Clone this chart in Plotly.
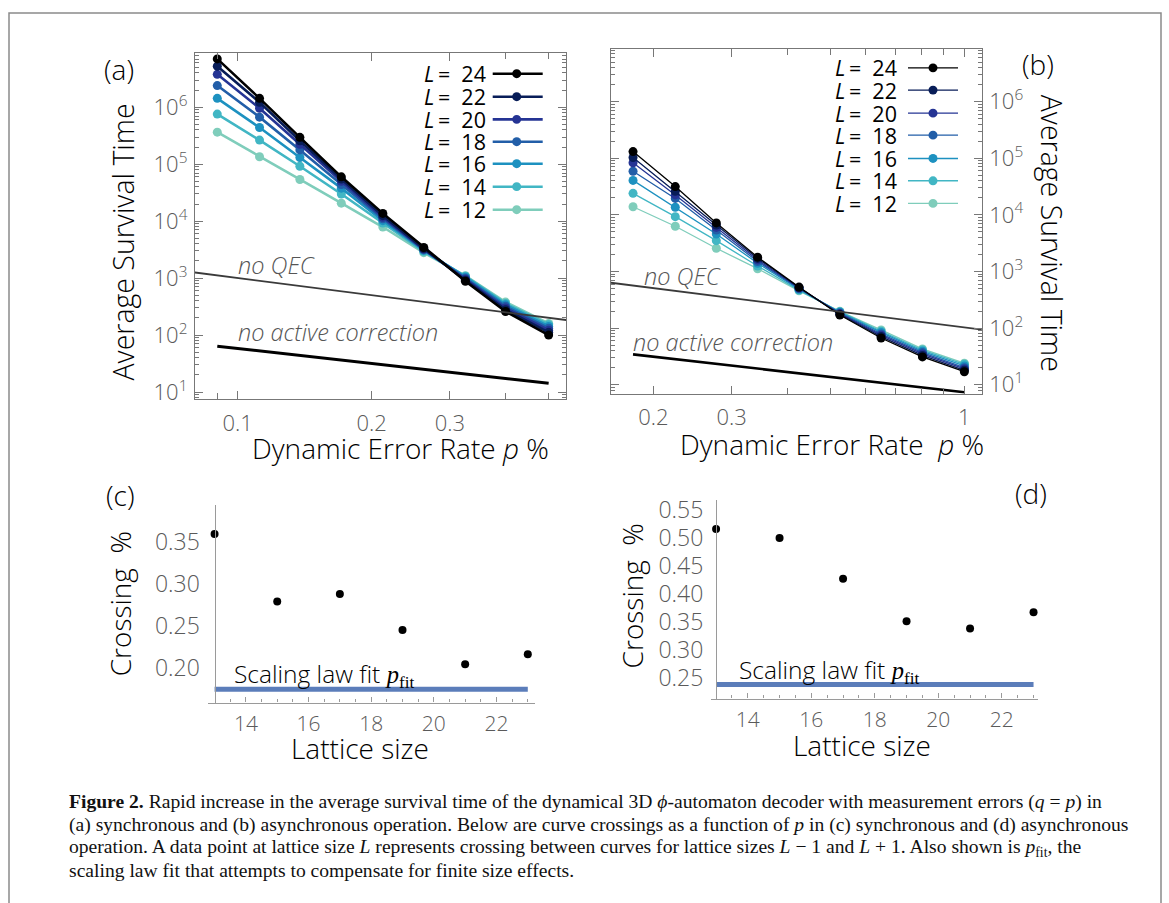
import math
import plotly.graph_objects as go

W, H = 1169, 903
def px(x): return x / W
def py(y): return 1 - y / H

# ---------------- data ----------------
L_sizes = [24, 22, 20, 18, 16, 14, 12]
colors = ['#000000', '#081d58', '#253494', '#225ea8', '#1d91c0', '#41b6c4', '#7fcdbb']

p_sync = [0.09, 0.112, 0.138, 0.171, 0.212, 0.262, 0.325, 0.40, 0.50]
T_sync_24 = [7.05e6, 1.43e6, 2.96e5, 6.0e4, 1.37e4, 3450, 880, 260, 100]
T_sync_22 = [5.26e6, 1.22e6, 2.58e5, 5.5e4, 1.25e4, 3300, 920, 280, 112]
T_sync_20 = [3.78e6, 9.6e5, 2.24e5, 5.0e4, 1.17e4, 3230, 960, 300, 122]
T_sync_18 = [2.40e6, 6.7e5, 1.78e5, 4.4e4, 1.10e4, 3160, 1000, 320, 132]
T_sync_16 = [1.43e6, 4.4e5, 1.31e5, 3.8e4, 1.02e4, 3090, 1040, 340, 142]
T_sync_14 = [7.57e5, 2.65e5, 9.2e4, 3.0e4, 9.3e3, 2950, 1080, 360, 152]
T_sync_12 = [3.65e5, 1.35e5, 5.4e4, 2.07e4, 7.9e3, 2800, 1100, 380, 160]
T_sync = [T_sync_24, T_sync_22, T_sync_20, T_sync_18, T_sync_16, T_sync_14, T_sync_12]

p_async = [0.18, 0.224, 0.277, 0.343, 0.425, 0.525, 0.65, 0.805, 1.0]
T_async_24 = [1.31e5, 3.16e4, 7.2e3, 1790, 530, 170, 67, 31, 17]
T_async_22 = [1.03e5, 2.6e4, 6.6e3, 1700, 520, 175, 71, 33, 18]
T_async_20 = [8.3e4, 2.25e4, 6.0e3, 1600, 510, 180, 75, 35, 19]
T_async_18 = [5.9e4, 1.95e4, 5.4e3, 1500, 500, 185, 79, 37, 20]
T_async_16 = [4.06e4, 1.36e4, 4.6e3, 1400, 485, 190, 84, 39, 21.5]
T_async_14 = [2.4e4, 9.3e3, 3.5e3, 1250, 470, 195, 88, 41, 23]
T_async_12 = [1.39e4, 6.3e3, 2.57e3, 1120, 455, 198, 93, 43, 24]
T_async = [T_async_24, T_async_22, T_async_20, T_async_18, T_async_16, T_async_14, T_async_12]

noqec_sync_p = [0.078, 0.56]
noqec_sync_T = [1290, 180]
noact_sync_p = [0.09, 0.50]
noact_sync_T = [64, 14.3]

noqec_async_p = [0.155, 1.12]
noqec_async_T = [655, 92]
noact_async_p = [0.18, 1.0]
noact_async_T = [34.4, 7.4]

cross_L = [13, 15, 17, 19, 21, 23]
cross_sync = [0.360, 0.279, 0.288, 0.245, 0.204, 0.216]
cross_async = [0.516, 0.500, 0.427, 0.351, 0.338, 0.367]
fit_sync = 0.174
fit_async = 0.238

sync_xticks = [0.1, 0.2, 0.3]
async_xticks = [0.2, 0.3, 1]
async_xtick_text = ['0.2', '0.3', '1']
surv_exps = [1, 2, 3, 4, 5, 6]
cross_xticks = [14, 16, 18, 20, 22]
cross_sync_yticks = [0.20, 0.25, 0.30, 0.35]
cross_async_yticks = [0.25, 0.30, 0.35, 0.40, 0.45, 0.50, 0.55]

# ---------------- style ----------------
SANS = 'Open Sans'
SERIF = 'Liberation Serif'
TICKC = '#5a5a5a'
FRAME = '#777777'
FITC = '#5b7dba'

fig = go.Figure()

# panel (a)
for L, c, T in reversed(list(zip(L_sizes, colors, T_sync))):
    fig.add_trace(go.Scatter(x=p_sync, y=T, mode='lines+markers', xaxis='x', yaxis='y',
                             line=dict(color=c, width=2.6), marker=dict(color=c, size=9),
                             showlegend=False, cliponaxis=False))
fig.add_trace(go.Scatter(x=noqec_sync_p, y=noqec_sync_T, mode='lines', xaxis='x', yaxis='y',
                         line=dict(color='#3a3a3a', width=1.8), showlegend=False))
fig.add_trace(go.Scatter(x=noact_sync_p, y=noact_sync_T, mode='lines', xaxis='x', yaxis='y',
                         line=dict(color='#000000', width=3), showlegend=False))

# panel (b)
for L, c, T in reversed(list(zip(L_sizes, colors, T_async))):
    fig.add_trace(go.Scatter(x=p_async, y=T, mode='lines+markers', xaxis='x2', yaxis='y2',
                             line=dict(color=c, width=1.3), marker=dict(color=c, size=9),
                             showlegend=False, cliponaxis=False))
fig.add_trace(go.Scatter(x=noqec_async_p, y=noqec_async_T, mode='lines', xaxis='x2', yaxis='y2',
                         line=dict(color='#3a3a3a', width=1.8), showlegend=False))
fig.add_trace(go.Scatter(x=noact_async_p, y=noact_async_T, mode='lines', xaxis='x2', yaxis='y2',
                         line=dict(color='#000000', width=2.6), showlegend=False))

# panel (c)
fig.add_trace(go.Scatter(x=[cross_L[0], cross_L[-1]], y=[fit_sync, fit_sync], mode='lines',
                         xaxis='x3', yaxis='y3', line=dict(color=FITC, width=5), showlegend=False))
fig.add_trace(go.Scatter(x=cross_L, y=cross_sync, mode='markers', xaxis='x3', yaxis='y3',
                         marker=dict(color='black', size=8), showlegend=False, cliponaxis=False))
# panel (d)
fig.add_trace(go.Scatter(x=[cross_L[0], cross_L[-1]], y=[fit_async, fit_async], mode='lines',
                         xaxis='x4', yaxis='y4', line=dict(color=FITC, width=5), showlegend=False))
fig.add_trace(go.Scatter(x=cross_L, y=cross_async, mode='markers', xaxis='x4', yaxis='y4',
                         marker=dict(color='black', size=8), showlegend=False, cliponaxis=False))

tickfont = dict(family=SANS, size=22, color=TICKC, weight=300)
tickfont_small = dict(family=SANS, size=21, color=TICKC, weight=300)
minor_log_y = [m * 10 ** e for e in range(0, 7) for m in range(2, 10)]

def frame_axis(**kw):
    d = dict(showline=True, linecolor=FRAME, linewidth=1.3, mirror='allticks', ticks='inside',
             ticklen=8, tickcolor=FRAME, tickwidth=1.2, showgrid=False, zeroline=False,
             tickfont=tickfont)
    d.update(kw)
    return d

surv_text = [f'10<sup>{e}</sup>' for e in surv_exps]
surv_vals = [10 ** e for e in surv_exps]

minor_cross = [13.5, 14.5, 15, 15.5, 16.5, 17, 17.5, 18.5, 19, 19.5, 20.5, 21, 21.5, 22.5, 23]

fig.update_layout(
    width=W, height=H, margin=dict(l=0, r=0, t=0, b=0),
    paper_bgcolor='white', plot_bgcolor='white',
    xaxis=frame_axis(type='log', domain=[px(195), px(566)], anchor='y',
                     range=[math.log10(0.0802), math.log10(0.547)],
                     tickmode='array', tickvals=sync_xticks, ticktext=[str(v) for v in sync_xticks],
                     minor=dict(tickvals=[0.09, 0.4, 0.5], ticks='inside', ticklen=6, tickcolor=FRAME),
                     ticklabelstandoff=4),
    yaxis=frame_axis(type='log', domain=[py(398), py(47)], anchor='x',
                     range=[0.874, 6.946], tickmode='array', tickvals=surv_vals, ticktext=surv_text,
                     minor=dict(tickvals=minor_log_y, ticks='inside', ticklen=4, tickcolor=FRAME),
                     ticklabelstandoff=2),
    xaxis2=frame_axis(type='log', domain=[px(611), px(981.7)], anchor='y2',
                      range=[math.log10(0.1606), math.log10(1.094)],
                      tickmode='array', tickvals=async_xticks, ticktext=async_xtick_text,
                      minor=dict(tickvals=[0.4, 0.5, 0.6, 0.7, 0.8, 0.9], ticks='inside', ticklen=6,
                                 tickcolor=FRAME),
                      ticklabelstandoff=4),
    yaxis2=frame_axis(type='log', domain=[py(392.3), py(42.3)], anchor='x2', side='right',
                      range=[0.843, 6.934], tickmode='array', tickvals=surv_vals, ticktext=surv_text,
                      minor=dict(tickvals=minor_log_y, ticks='inside', ticklen=4, tickcolor=FRAME),
                      ticklabelstandoff=2),
    xaxis3=dict(domain=[px(208), px(535)], anchor='y3', range=[12.79, 23.23],
                showline=True, linecolor='#9a9a9a', linewidth=1.3, ticks='inside', ticklen=5,
                tickcolor='#9a9a9a', showgrid=False, zeroline=False, tickfont=tickfont_small,
                tickmode='array', tickvals=cross_xticks,
                minor=dict(tickvals=minor_cross, ticks='inside', ticklen=3, tickcolor='#9a9a9a'),
                ticklabelstandoff=2),
    yaxis3=dict(domain=[py(705.7), py(505)], anchor='free', position=px(214.6),
                range=[0.158, 0.395], showline=True, linecolor='#9a9a9a', linewidth=1.3,
                ticks='', showgrid=False, zeroline=False,
                tickfont=dict(family=SANS, size=23, color=TICKC, weight=300),
                tickmode='array', tickvals=cross_sync_yticks, tickformat='.2f', ticklabelstandoff=10),
    xaxis4=dict(domain=[px(711), px(1038.3)], anchor='y4', range=[12.84, 23.15],
                showline=True, linecolor='#9a9a9a', linewidth=1.3, ticks='inside', ticklen=5,
                tickcolor='#9a9a9a', showgrid=False, zeroline=False, tickfont=tickfont_small,
                tickmode='array', tickvals=cross_xticks,
                minor=dict(tickvals=minor_cross, ticks='inside', ticklen=3, tickcolor='#9a9a9a'),
                ticklabelstandoff=2),
    yaxis4=dict(domain=[py(701.7), py(500)], anchor='free', position=px(716.1),
                range=[0.213, 0.568], showline=True, linecolor='#9a9a9a', linewidth=1.3,
                ticks='', showgrid=False, zeroline=False,
                tickfont=dict(family=SANS, size=23, color=TICKC, weight=300),
                tickmode='array', tickvals=cross_async_yticks, tickformat='.2f', ticklabelstandoff=8),
)

ann = []
def text(x, y, s, size, color='black', family=SANS, xanchor='center', yanchor='middle', angle=0,
         weight=300):
    ann.append(dict(x=px(x), y=py(y), xref='paper', yref='paper', text=s, showarrow=False,
                    xanchor=xanchor, yanchor=yanchor, textangle=angle, borderpad=0,
                    font=dict(family=family, size=size, color=color, weight=weight)))

# panel labels
text(119, 63, '(a)', 28)
text(1038, 58, '(b)', 28)
text(120, 495, '(c)', 28)
text(1031, 493, '(d)', 28)

# axis titles
text(123, 239, 'Average Survival Time', 28.5, angle=-90)
text(400, 447, 'Dynamic Error Rate <i>p</i> %', 28)
text(1052, 229, 'Average Survival Time', 28.5, angle=90)
text(832, 443, 'Dynamic Error Rate\u00a0\u00a0<i>p</i> %', 28)
text(120, 606, 'Crossing\u00a0\u00a0%', 28, angle=-90)
text(360, 752, 'Lattice size', 28)
text(632, 598, 'Crossing\u00a0\u00a0%', 28, angle=-90)
text(862, 749, 'Lattice size', 28)

# curve labels
text(237, 262, '<i>no QEC</i>', 23.5, color='#555555', xanchor='left')
text(237, 330, '<i>no active correction</i>', 23.5, color='#555555', xanchor='left')
text(643, 273, '<i>no QEC</i>', 23.5, color='#555555', xanchor='left')
text(632, 340, '<i>no active correction</i>', 23.5, color='#555555', xanchor='left')

fit_lbl = ("Scaling law fit <span style='font-family:Liberation Serif;font-weight:400'><i>p</i>"
           "<sub>fit</sub></span>")
text(233, 677, fit_lbl, 24.5, xanchor='left')
text(738, 673, fit_lbl, 24.5, xanchor='left')

# manual legends (text left, symbol right)
shapes = []
rows_a = [67.7, 91, 114, 136.7, 159, 182.3, 205.7]
rows_b = [61.7, 84.3, 107.7, 130, 153.7, 176.3, 199.3]
for (rows, tx, lx0, lx1, mx, lw) in [(rows_a, 487, 492.7, 542.7, 516.7, 2.6),
                                     (rows_b, 898, 908, 958, 933, 1.3)]:
    for L, c, ry in zip(L_sizes, colors, rows):
        text(tx, ry, f"<i>L</i>\u2009=\u00a0\u00a0{L}", 21.5, xanchor='right', weight=400)
        shapes.append(dict(type='line', xref='paper', yref='paper', x0=px(lx0), x1=px(lx1),
                           y0=py(ry), y1=py(ry), line=dict(color=c, width=lw)))
        r = 4.5
        shapes.append(dict(type='circle', xref='paper', yref='paper', x0=px(mx - r), x1=px(mx + r),
                           y0=py(ry + r), y1=py(ry - r), fillcolor=c, line=dict(width=0)))

# outer frame
shapes.append(dict(type='rect', xref='paper', yref='paper', x0=px(9), x1=px(1161), y0=py(915), y1=py(6),
                   line=dict(color='#8a8a8a', width=1.5), fillcolor='rgba(0,0,0,0)'))

# caption
cap = [
    "<b>Figure 2.</b> Rapid increase in the average survival time of the dynamical 3D <i>ϕ</i>-automaton decoder with measurement errors (<i>q</i> = <i>p</i>) in",
    "(a) synchronous and (b) asynchronous operation. Below are curve crossings as a function of <i>p</i> in (c) synchronous and (d) asynchronous",
    "operation. A data point at lattice size <i>L</i> represents crossing between curves for lattice sizes <i>L</i> − 1 and <i>L</i> + 1. Also shown is <i>p</i><sub>fit</sub>, the",
    "scaling law fit that attempts to compensate for finite size effects.",
]
for i, line in enumerate(cap):
    text(68, 807 + 23.2 * i, line, 19.6, family=SERIF, xanchor='left', color='#111111', weight=400)

fig.update_layout(annotations=ann, shapes=shapes)

fig.write_html("out.html", post_script="document.body.style.margin='0';",
               config={'displayModeBar': False})
